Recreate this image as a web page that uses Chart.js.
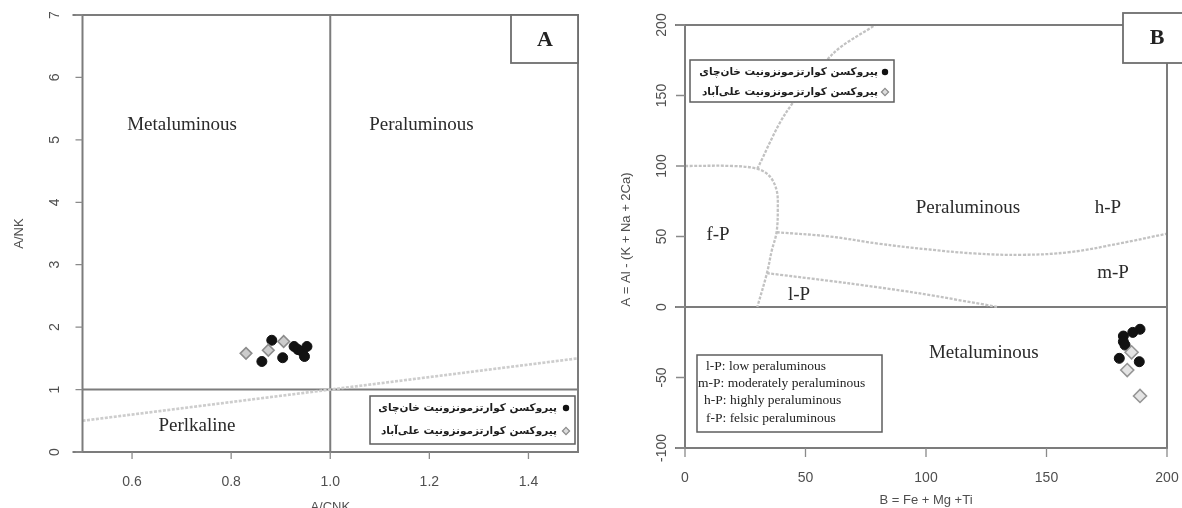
<!DOCTYPE html>
<html>
<head>
<meta charset="utf-8">
<script src="https://cdn.jsdelivr.net/npm/chart.js@4.4.1/dist/chart.umd.min.js"></script>
<style>
  html, body { margin: 0; padding: 0; background: #fff; }
  #wrap { position: relative; width: 1182px; height: 508px; overflow: hidden; background: #fff; }
  .panel { position: absolute; top: 0; }
</style>
</head>
<body>
<div id="wrap">
  <div class="panel" style="left:0;width:590px;height:508px"><canvas id="chartA" width="590" height="508"></canvas></div>
  <div class="panel" style="left:590px;width:592px;height:508px"><canvas id="chartB" width="592" height="508"></canvas></div>
</div>
<script>
// ---- series names (legend) ----
const seriesNames = ['پیروکسن کوارتزمونزونیت خان‌چای', 'پیروکسن کوارتزمونزونیت علی‌آباد'];

// ---- Panel A: A/CNK vs A/NK ----
const khanchayACNK = [0.882, 0.862, 0.904, 0.927, 0.935, 0.943, 0.953, 0.948];
const khanchayANK  = [1.79, 1.45, 1.51, 1.69, 1.64, 1.61, 1.69, 1.53];
const aliabadACNK  = [0.830, 0.875, 0.906];
const aliabadANK   = [1.58, 1.63, 1.77];
const ticksACNK = [0.6, 0.8, 1.0, 1.2, 1.4];
const ticksANK  = [0, 1, 2, 3, 4, 5, 6, 7];
const vDividerACNK = [1.0, 1.0];
const vDividerANK  = [0, 7];
const hDividerACNK = [0.5, 1.5];
const hDividerANK  = [1.0, 1.0];
const diagACNK = [0.5, 1.5];
const diagANK  = [0.5, 1.5];

// ---- Panel B: B = Fe+Mg+Ti vs A = Al-(K+Na+2Ca) ----
const khanchayB = [188.8, 185.8, 181.9, 181.9, 182.6, 180.2, 188.5];
const khanchayA = [-15.8, -18.0, -20.6, -24.6, -27.0, -36.4, -38.8];
const aliabadB  = [185.3, 183.5, 188.8];
const aliabadA  = [-32.1, -44.7, -63.1];
const ticksB = [0, 50, 100, 150, 200];
const ticksA = [-100, -50, 0, 50, 100, 150, 200];
const zeroLineB = [0, 200];
const zeroLineA = [0, 0];
const fpBoundB = [0, 20, 30, 35, 38, 38.5, 38, 36, 34, 30];
const fpBoundA = [100, 100, 98, 93, 83, 70, 53, 40, 24, 0];
const fpUpperB = [30, 41.6, 61.6, 78.9];
const fpUpperA = [98, 137, 180, 200];
const hpmpB = [38, 60, 80, 100, 120, 140, 160, 180, 200];
const hpmpA = [53, 50, 45, 41, 38, 37, 39, 45, 52];
const lpmpB = [34, 67, 96, 130];
const lpmpA = [24, 17, 10, 0];
const abbrevLines = ['l-P: low peraluminous', 'm-P: moderately peraluminous', 'h-P: highly peraluminous', 'f-P: felsic peraluminous'];

const pts = (xs, ys) => xs.map((x, i) => ({ x, y: ys[i] }));

const AXIS_GREY = '#7c7c7c';
const SERIF = '"Liberation Serif", "Times New Roman", serif';
const SANS = '"Liberation Sans", Arial, sans-serif';

function lineSet(data, color, width, dash, tension) {
  return { type: 'scatter', data, showLine: true, pointRadius: 0, borderColor: color,
           borderWidth: width, borderDash: dash || [], tension: tension || 0, order: 10, fill: false };
}
function blackSet(data, label) {
  return { label, data, pointStyle: 'circle', pointRadius: 5, backgroundColor: '#121212',
           borderColor: '#121212', borderWidth: 1, order: 2 };
}
function greySet(data, label, r, fillC, edgeC) {
  return { label, data, pointStyle: 'rectRot', pointRadius: r, backgroundColor: fillC,
           borderColor: edgeC, borderWidth: 1.6, order: 1 };
}

// draws frame, ticks, tick labels, titles, legends and region names
function decoPlugin(o) {
  return {
    id: 'deco',
    afterDatasetsDraw(chart) {
      const { ctx, chartArea: ca, scales: { x, y } } = chart;
      ctx.save();
      ctx.lineCap = 'butt';
      // frame
      ctx.strokeStyle = AXIS_GREY; ctx.lineWidth = 2;
      ctx.strokeRect(ca.left, ca.top, ca.right - ca.left, ca.bottom - ca.top);
      ctx.beginPath();
      ctx.moveTo(ca.left - 10, ca.top); ctx.lineTo(ca.left, ca.top);
      ctx.moveTo(ca.left - 10, ca.bottom); ctx.lineTo(ca.left, ca.bottom);
      o.extendY.forEach(v => { const p = y.getPixelForValue(v); ctx.moveTo(ca.left - 10, p); ctx.lineTo(ca.left, p); });
      ctx.stroke();
      // tick marks
      ctx.lineWidth = 1.3; ctx.strokeStyle = '#8a8a8a';
      ctx.beginPath();
      o.xTicks.forEach(v => { const p = x.getPixelForValue(v); ctx.moveTo(p, ca.bottom); ctx.lineTo(p, ca.bottom + o.tickLen); });
      o.yTicks.forEach(v => { const p = y.getPixelForValue(v); ctx.moveTo(ca.left - o.tickLen, p); ctx.lineTo(ca.left, p); });
      ctx.stroke();
      // tick labels
      ctx.fillStyle = '#4f4f4f';
      ctx.font = '14px ' + SANS;
      ctx.textAlign = 'center'; ctx.textBaseline = 'middle';
      o.xTicks.forEach(v => ctx.fillText(o.xFmt(v), x.getPixelForValue(v), ca.bottom + o.xLabelOff));
      o.yTicks.forEach(v => {
        ctx.save();
        ctx.translate(ca.left - o.yLabelOff, y.getPixelForValue(v));
        ctx.rotate(-Math.PI / 2);
        ctx.fillText(String(v), 0, 0);
        ctx.restore();
      });
      // axis titles
      ctx.fillStyle = '#4f4f4f';
      ctx.font = '13px ' + SANS;
      ctx.fillText(o.xTitle, (ca.left + ca.right) / 2, o.xTitleY);
      ctx.save();
      ctx.translate(o.yTitleX, (ca.top + ca.bottom) / 2 + o.yTitleShift);
      ctx.rotate(-Math.PI / 2);
      ctx.fillText(o.yTitle, 0, 0);
      ctx.restore();

      // region names
      ctx.fillStyle = '#2a2a2a';
      ctx.font = '19px ' + SERIF;
      o.regions.forEach(r => ctx.fillText(r.text, x.getPixelForValue(r.at[0]), y.getPixelForValue(r.at[1])));

      // panel letter box
      const pb = o.panelBox;
      ctx.fillStyle = '#fff';
      ctx.fillRect(pb.x, pb.y, pb.w, pb.h);
      ctx.strokeStyle = '#6e6e6e'; ctx.lineWidth = 1.8;
      ctx.strokeRect(pb.x, pb.y, pb.w, pb.h);
      ctx.fillStyle = '#222';
      ctx.font = 'bold 22px ' + SERIF;
      ctx.fillText(pb.text, pb.tx, pb.ty);

      // series legend
      const lg = o.legend;
      ctx.fillStyle = '#fff';
      ctx.fillRect(lg.x, lg.y, lg.w, lg.h);
      ctx.strokeStyle = '#5e5e5e'; ctx.lineWidth = 1.5;
      ctx.strokeRect(lg.x, lg.y, lg.w, lg.h);
      ctx.direction = 'rtl';
      ctx.textAlign = 'right';
      ctx.font = 'bold 10.5px "DejaVu Sans", sans-serif';
      ctx.fillStyle = '#1c1c1c';
      seriesNames.forEach((name, i) => ctx.fillText(name, lg.textRight, lg.rows[i]));
      ctx.direction = 'ltr';
      // legend markers
      ctx.beginPath(); ctx.fillStyle = '#111';
      ctx.arc(lg.markerX, lg.rows[0], 3.2, 0, Math.PI * 2); ctx.fill();
      ctx.beginPath();
      const mx = lg.markerX, my = lg.rows[1], d = 3.6;
      ctx.moveTo(mx, my - d); ctx.lineTo(mx + d, my); ctx.lineTo(mx, my + d); ctx.lineTo(mx - d, my); ctx.closePath();
      ctx.fillStyle = '#dcdcdc'; ctx.fill(); ctx.strokeStyle = '#8a8a8a'; ctx.lineWidth = 1.2; ctx.stroke();

      // abbreviation legend
      if (o.abbrev) {
        const ab = o.abbrev;
        ctx.fillStyle = '#fff';
        ctx.fillRect(ab.x, ab.y, ab.w, ab.h);
        ctx.strokeStyle = '#5e5e5e'; ctx.lineWidth = 1.5;
        ctx.strokeRect(ab.x, ab.y, ab.w, ab.h);
        ctx.fillStyle = '#222';
        ctx.font = '13.5px ' + SERIF;
        ctx.textAlign = 'left';
        abbrevLines.forEach((t, i) => ctx.fillText(t, ab.textLeft[i], ab.rows[i]));
      }
      ctx.restore();
    }
  };
}

function baseOptions(xr, yr, pad) {
  return {
    responsive: false, animation: false, events: [],
    layout: { padding: pad },
    plugins: { legend: { display: false }, tooltip: { enabled: false } },
    scales: {
      x: { type: 'linear', min: xr[0], max: xr[1], display: false },
      y: { type: 'linear', min: yr[0], max: yr[1], display: false }
    }
  };
}

// ---------- Panel A ----------
new Chart(document.getElementById('chartA'), {
  type: 'scatter',
  data: {
    datasets: [
      lineSet(pts(diagACNK, diagANK), '#cdcdcd', 2.6, [3, 1.5]),
      lineSet(pts(vDividerACNK, vDividerANK), AXIS_GREY, 2),
      lineSet(pts(hDividerACNK, hDividerANK), AXIS_GREY, 2),
      greySet(pts(aliabadACNK, aliabadANK), seriesNames[1], 5.8, '#cccccc', '#8c8c8c'),
      blackSet(pts(khanchayACNK, khanchayANK), seriesNames[0])
    ]
  },
  options: baseOptions([0.5, 1.5], [0, 7], { left: 82.5, top: 15, right: 12, bottom: 56 }),
  plugins: [decoPlugin({
    xTicks: ticksACNK, yTicks: ticksANK, tickLen: 7, extendY: [],
    xFmt: v => v.toFixed(1), xLabelOff: 30, yLabelOff: 27,
    xTitle: 'A/CNK', xTitleY: 507, yTitle: 'A/NK', yTitleX: 19, yTitleShift: 0,
    regions: [
      { text: 'Metaluminous', at: [0.701, 5.24] },
      { text: 'Peraluminous', at: [1.184, 5.24] },
      { text: 'Perlkaline', at: [0.731, 0.42] }
    ],
    panelBox: { x: 511, y: 15, w: 67, h: 48, text: 'A', tx: 545, ty: 40 },
    legend: { x: 370, y: 396, w: 205, h: 48, rows: [408, 431], textRight: 557, markerX: 566 }
  })]
});

// ---------- Panel B ----------
new Chart(document.getElementById('chartB'), {
  type: 'scatter',
  data: {
    datasets: [
      lineSet(pts(fpBoundB, fpBoundA), '#c2c2c2', 2.3, [3, 1.5], 0.35),
      lineSet(pts(fpUpperB, fpUpperA), '#c2c2c2', 2.3, [3, 1.5], 0.3),
      lineSet(pts(hpmpB, hpmpA), '#c2c2c2', 2.3, [3, 1.5], 0.4),
      lineSet(pts(lpmpB, lpmpA), '#c2c2c2', 2.3, [3, 1.5], 0.3),
      lineSet(pts(zeroLineB, zeroLineA), AXIS_GREY, 2),
      greySet(pts(aliabadB, aliabadA), seriesNames[1], 6.5, '#e4e4e4', '#959595'),
      blackSet(pts(khanchayB, khanchayA), seriesNames[0])
    ]
  },
  options: baseOptions([0, 200], [-100, 200], { left: 95, top: 25, right: 15, bottom: 60 }),
  plugins: [decoPlugin({
    xTicks: ticksB, yTicks: ticksA, tickLen: 9, extendY: [0],
    xFmt: v => String(v), xLabelOff: 30, yLabelOff: 23,
    xTitle: 'B = Fe + Mg +Ti', xTitleY: 500, yTitle: 'A = Al - (K + Na + 2Ca)', yTitleX: 36, yTitleShift: 3,
    regions: [
      { text: 'Peraluminous', at: [117.4, 70.2] },
      { text: 'h-P', at: [175.5, 70.2] },
      { text: 'm-P', at: [177.6, 24.1] },
      { text: 'f-P', at: [13.7, 51] },
      { text: 'l-P', at: [47.3, 8.5] },
      { text: 'Metaluminous', at: [124, -32.6] }
    ],
    panelBox: { x: 533, y: 13, w: 70, h: 50, text: 'B', tx: 567, ty: 38 },
    legend: { x: 100, y: 60, w: 204, h: 42, rows: [72, 92], textRight: 288, markerX: 295 },
    abbrev: { x: 107, y: 355, w: 185, h: 77, rows: [366, 383, 400, 418], textLeft: [116, 108, 114, 116] }
  })]
});
</script>
</body>
</html>
